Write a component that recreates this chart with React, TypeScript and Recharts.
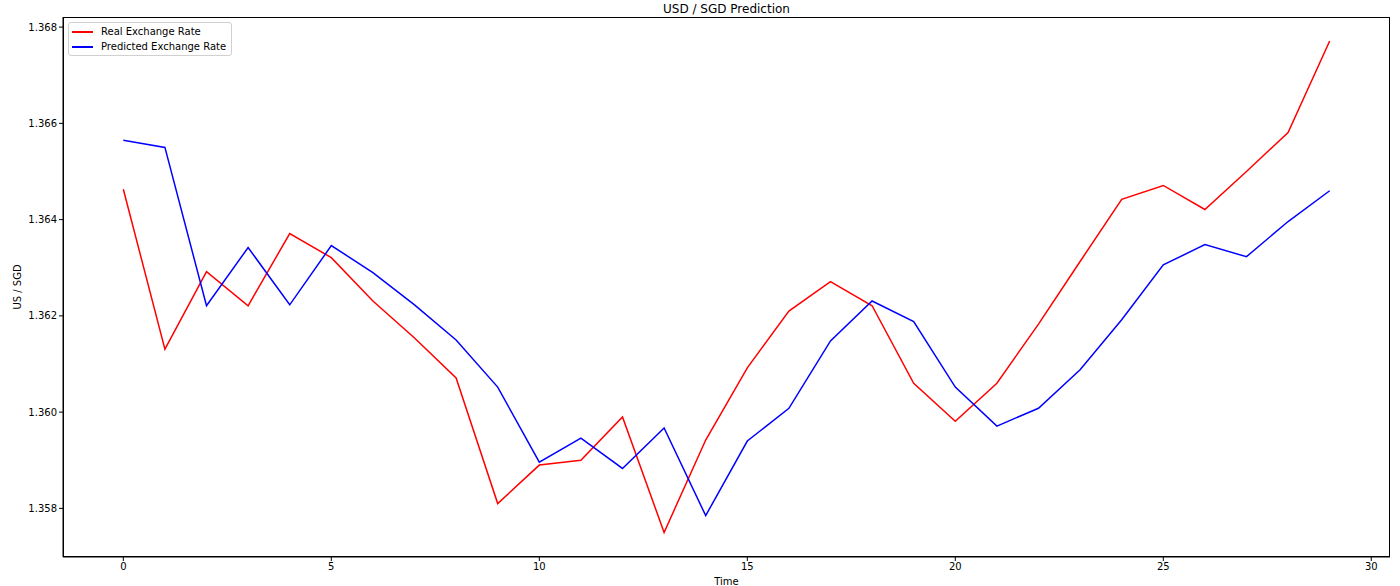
import { Line, LineChart, XAxis, YAxis } from "recharts";

const time = [0, 1, 2, 3, 4, 5, 6, 7, 8, 9, 10, 11, 12, 13, 14, 15, 16, 17, 18, 19, 20, 21, 22, 23, 24, 25, 26, 27, 28, 29];
const realRate = [
  1.36463, 1.36131, 1.36292, 1.36221, 1.36371, 1.36321, 1.36231, 1.36154, 1.36071, 1.3581,
  1.3589, 1.359, 1.3599, 1.3575, 1.35942, 1.36092, 1.3621, 1.36271, 1.36221, 1.3606,
  1.35981, 1.3606, 1.36183, 1.36313, 1.36442, 1.36471, 1.36421, 1.365, 1.36581, 1.36771,
];
const predictedRate = [
  1.36565, 1.3655, 1.36221, 1.36342, 1.36223, 1.36346, 1.3629, 1.36223, 1.3615, 1.36052,
  1.35896, 1.35946, 1.35883, 1.35967, 1.35785, 1.3594, 1.36008, 1.36148, 1.36231, 1.36188,
  1.36052, 1.35971, 1.36008, 1.36088, 1.36192, 1.36306, 1.36348, 1.36323, 1.36396, 1.3646,
];
const xTicks = [0, 5, 10, 15, 20, 25, 30];
const yTicks = [1.358, 1.36, 1.362, 1.364, 1.366, 1.368];

const data = time.map((t, i) => ({ t, real: realRate[i], predicted: predictedRate[i] }));

const font = "'DejaVu Sans', sans-serif";
const tick = { fontSize: 10, fill: "#000", fontFamily: font };

const legendItems = [
  { label: "Real Exchange Rate", color: "#ff0000" },
  { label: "Predicted Exchange Rate", color: "#0000ff" },
];

function LegendBox() {
  return (
    <div style={{ position: "absolute", left: 68, top: 22, border: "1px solid #d0d0d0", borderRadius: 3, background: "#fff", padding: "1px 5px 1px 3px", fontSize: 10 }}>
      {legendItems.map((it) => (
        <div key={it.label} style={{ display: "flex", alignItems: "center", height: 15 }}>
          <span style={{ display: "inline-block", width: 21, height: 0, borderTop: `2px solid ${it.color}`, marginRight: 8 }} />
          <span>{it.label}</span>
        </div>
      ))}
    </div>
  );
}

export default function App() {
  return (
    <div style={{ position: "absolute", left: 0, top: 0, width: 1400, height: 586, background: "#fff", fontFamily: font }}>
      <LineChart width={1400} height={586} data={data} margin={{ top: 17, right: 10, left: 0, bottom: 0 }}>
        <XAxis
          dataKey="t"
          type="number"
          domain={[-1.45, 30.45]}
          ticks={xTicks}
          allowDataOverflow
          height={29}
          tick={tick}
          tickSize={4}
          tickLine={{ stroke: "#000" }}
          axisLine={{ stroke: "#000" }}
        />
        <YAxis
          type="number"
          domain={[1.35699, 1.36821]}
          ticks={yTicks}
          allowDataOverflow
          width={63}
          tick={tick}
          tickSize={4}
          tickLine={{ stroke: "#000" }}
          axisLine={{ stroke: "#000" }}
          tickFormatter={(v: number) => v.toFixed(3)}
        />
        <Line dataKey="real" name="Real Exchange Rate" stroke="#ff0000" strokeWidth={1.5} dot={false} isAnimationActive={false} />
        <Line dataKey="predicted" name="Predicted Exchange Rate" stroke="#0000ff" strokeWidth={1.5} dot={false} isAnimationActive={false} />
      </LineChart>
      <div style={{ position: "absolute", left: 63, top: 17, width: 1327, height: 540, boxSizing: "border-box", border: "1px solid #000", pointerEvents: "none" }} />
      <LegendBox />
      <div style={{ position: "absolute", left: 63, width: 1327, top: 2, textAlign: "center", fontSize: 12 }}>USD / SGD Prediction</div>
      <div style={{ position: "absolute", left: 63, width: 1327, top: 576, textAlign: "center", fontSize: 10 }}>Time</div>
      <div style={{ position: "absolute", left: 17, top: 287, fontSize: 10, transform: "translate(-50%, -50%) rotate(-90deg)", whiteSpace: "nowrap" }}>US / SGD</div>
    </div>
  );
}
